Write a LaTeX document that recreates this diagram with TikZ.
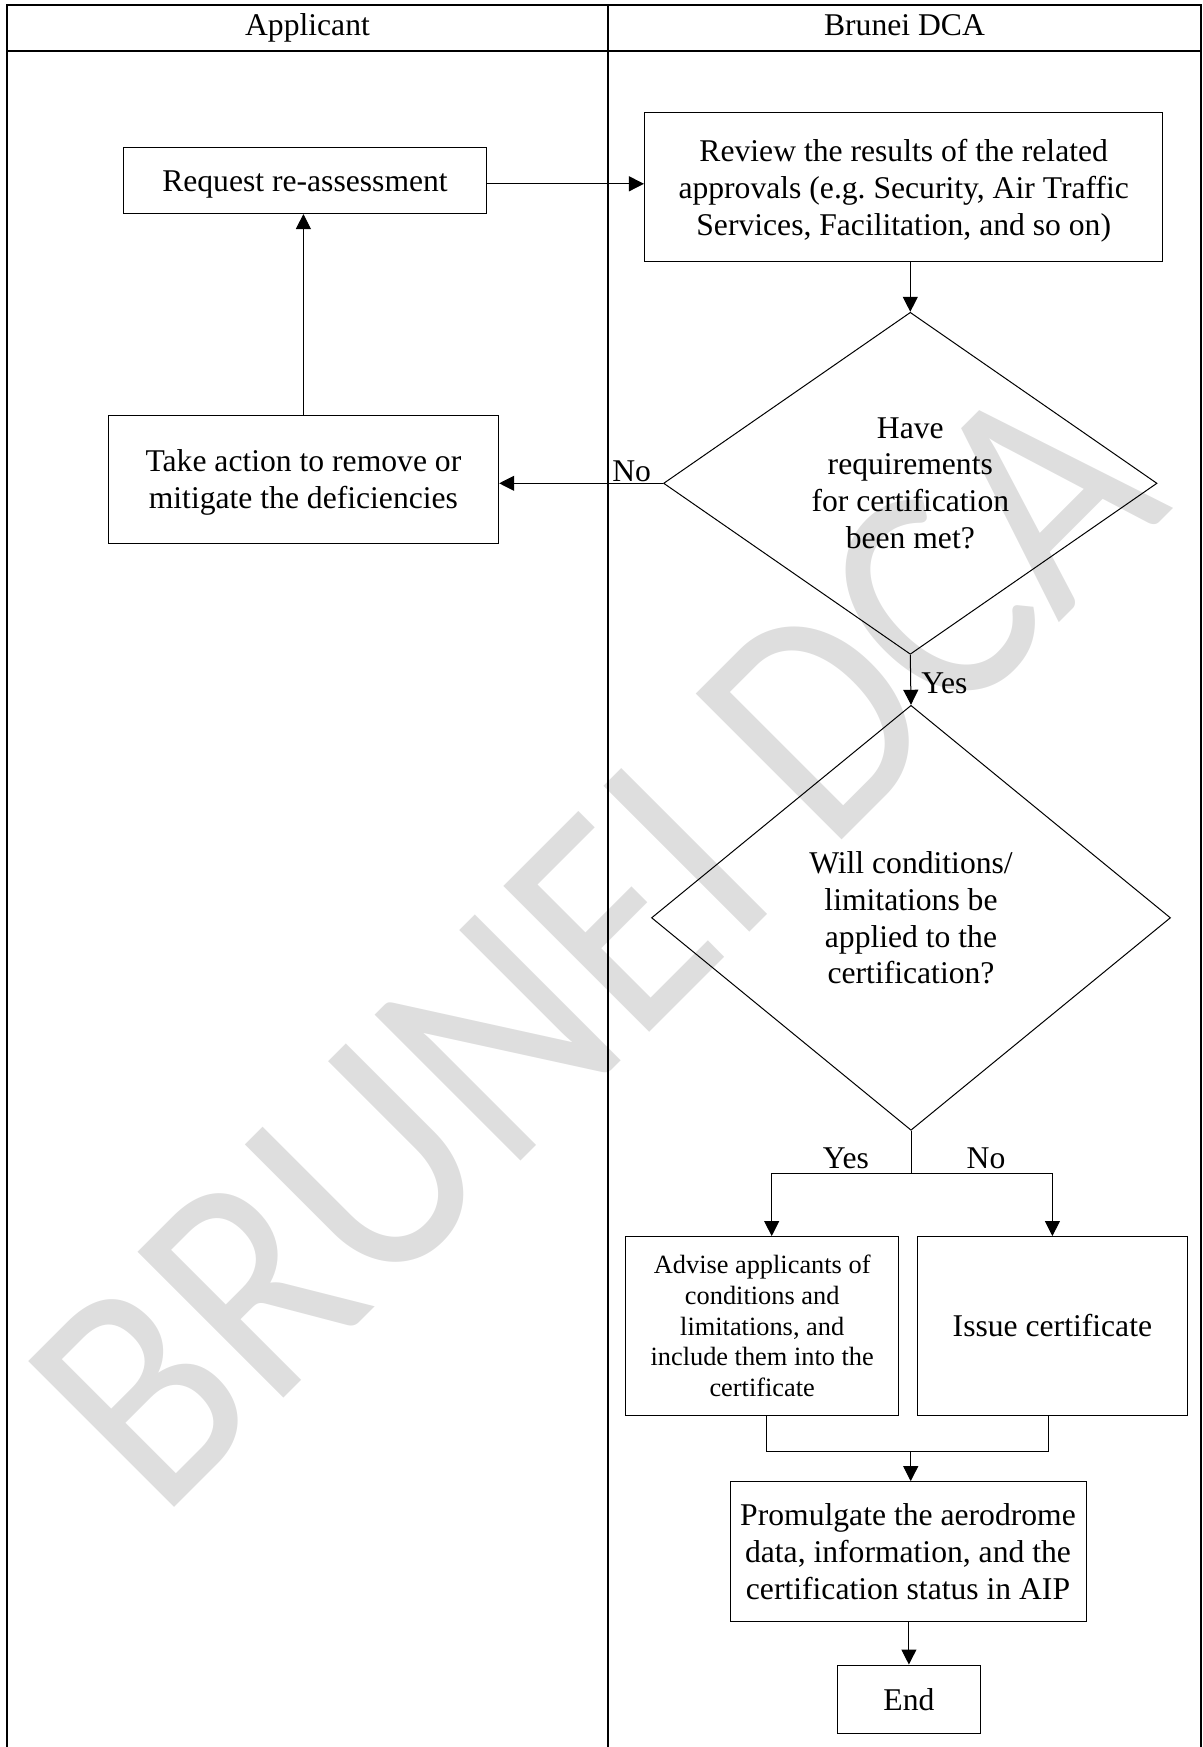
\documentclass[tikz,border=0pt]{standalone}
\usepackage{fontspec}
\setmainfont{Liberation Serif}
\newfontfamily\markfont{Carlito}
\usetikzlibrary{shapes.geometric, arrows.meta}
\definecolor{markgray}{RGB}{222,222,222}
\newcommand{\topline}{\rule{0pt}{0.95em}}
\newcommand{\botline}{\rule[-0.25em]{0pt}{0pt}}

\begin{document}
\begin{tikzpicture}[x=0.2mm, y=-0.2mm,
    every node/.style={font=\fontsize{18}{21}\selectfont, inner sep=0pt},
    procbox/.style={draw, line width=0.2mm, align=flush center,
      execute at begin node=\topline, execute at end node=\botline},
    decision/.style={diamond, draw, line width=0.2mm, align=center},
    flow/.style={line width=0.2mm, -{Triangle[length=3mm, width=3mm]}},
    plain/.style={line width=0.2mm},
    lane/.style={line width=0.4mm}]
  \useasboundingbox (0,0) rectangle (1203,1747);

  % Watermark
  \begin{scope}
    \clip (0,0) rectangle (1203,1747);
    \node[anchor=base west, rotate=45, text=markgray,
      font=\markfont\fontsize{183}{183}\selectfont] (mark) at (160,1522) {\scalebox{0.88}[1]{BRUNEI DCA}};
  \end{scope}

  % Swimlanes
  \draw[lane] (7,1747) -- (7,5) -- (1201,5) -- (1201,1747);
  \draw[lane] (7,51) -- (1201,51);
  \draw[lane] (608,5) -- (608,1747);
  \node[anchor=base] (applicant) at (307.5,35.4) {Applicant};
  \node[anchor=base] (dca) at (904.5,35.4) {Brunei DCA};

  % Applicant side
  \node[procbox, text width=72.4mm, minimum height=13.3mm] (req)
    at (305,180.3) {Request re-assessment};
  \node[procbox, text width=78.1mm, minimum height=25.6mm] (act)
    at (303.4,479.3) {Take action to remove or\\mitigate the deficiencies};

  % Brunei DCA side
  \node[procbox, text width=103.7mm, minimum height=29.8mm] (rev)
    at (903.7,187.2) {Review the results of the related\\approvals (e.g.\ Security, Air Traffic\\Services, Facilitation, and so on)};
  \node[decision, shape aspect=1.44, minimum width=98.7mm, minimum height=68.4mm] (met)
    at (910.3,483.3) {Have\\requirements\\for certification\\been met?};
  \node[decision, shape aspect=1.22, minimum width=103.8mm, minimum height=85mm] (cond)
    at (911,917.8) {Will conditions/\\limitations be\\applied to the\\certification?};
  \node[procbox, text width=54.5mm, minimum height=35.7mm,
    font=\fontsize{15}{17.4}\selectfont] (adv)
    at (762.2,1325.8) {Advise applicants of\\conditions and\\limitations, and\\include them into the\\certificate};
  \node[procbox, text width=54mm, minimum height=35.7mm] (iss)
    at (1052.4,1325.8) {Issue certificate};
  \node[procbox, text width=71.2mm, minimum height=27.9mm] (prom)
    at (908,1551.4) {Promulgate the aerodrome\\data, information, and the\\certification status in AIP};
  \node[procbox, text width=28.5mm, minimum height=13.6mm] (end)
    at (908.9,1699) {End};

  % Connectors
  \coordinate (split) at (911,1173.3);
  \coordinate (join) at (910.7,1451.7);
  \draw[flow] ([yshift=-0.7mm]req.east) -- ([yshift=-0.7mm]req.east -| rev.west);
  \draw[flow] (met.north |- rev.south) -- (met.north);
  \draw[flow] (met.west) -- (met.west -| act.east);
  \draw[flow] (act.north) -- (act.north |- req.south);
  \draw[flow] (met.south) -- (cond.north);
  \draw[plain] (cond.south) -- (split);
  \draw[flow] (split) -| ([xshift=1.9mm]adv.north);
  \draw[flow] (split) -| (iss.north);
  \draw[plain] ([xshift=0.9mm]adv.south) |- (join) -| ([xshift=-0.8mm]iss.south);
  \draw[flow] (join) -- (join |- prom.north);
  \draw[flow] (end.north |- prom.south) -- (end.north);

  % Branch labels
  \node[anchor=base west] (no1) at (612,481) {No};
  \node[anchor=west] (yes1) at (921,683) {Yes};
  \node[anchor=base] (yes2) at (846,1168) {Yes};
  \node[anchor=base] (no2) at (986,1168) {No};
\end{tikzpicture}
\end{document}
